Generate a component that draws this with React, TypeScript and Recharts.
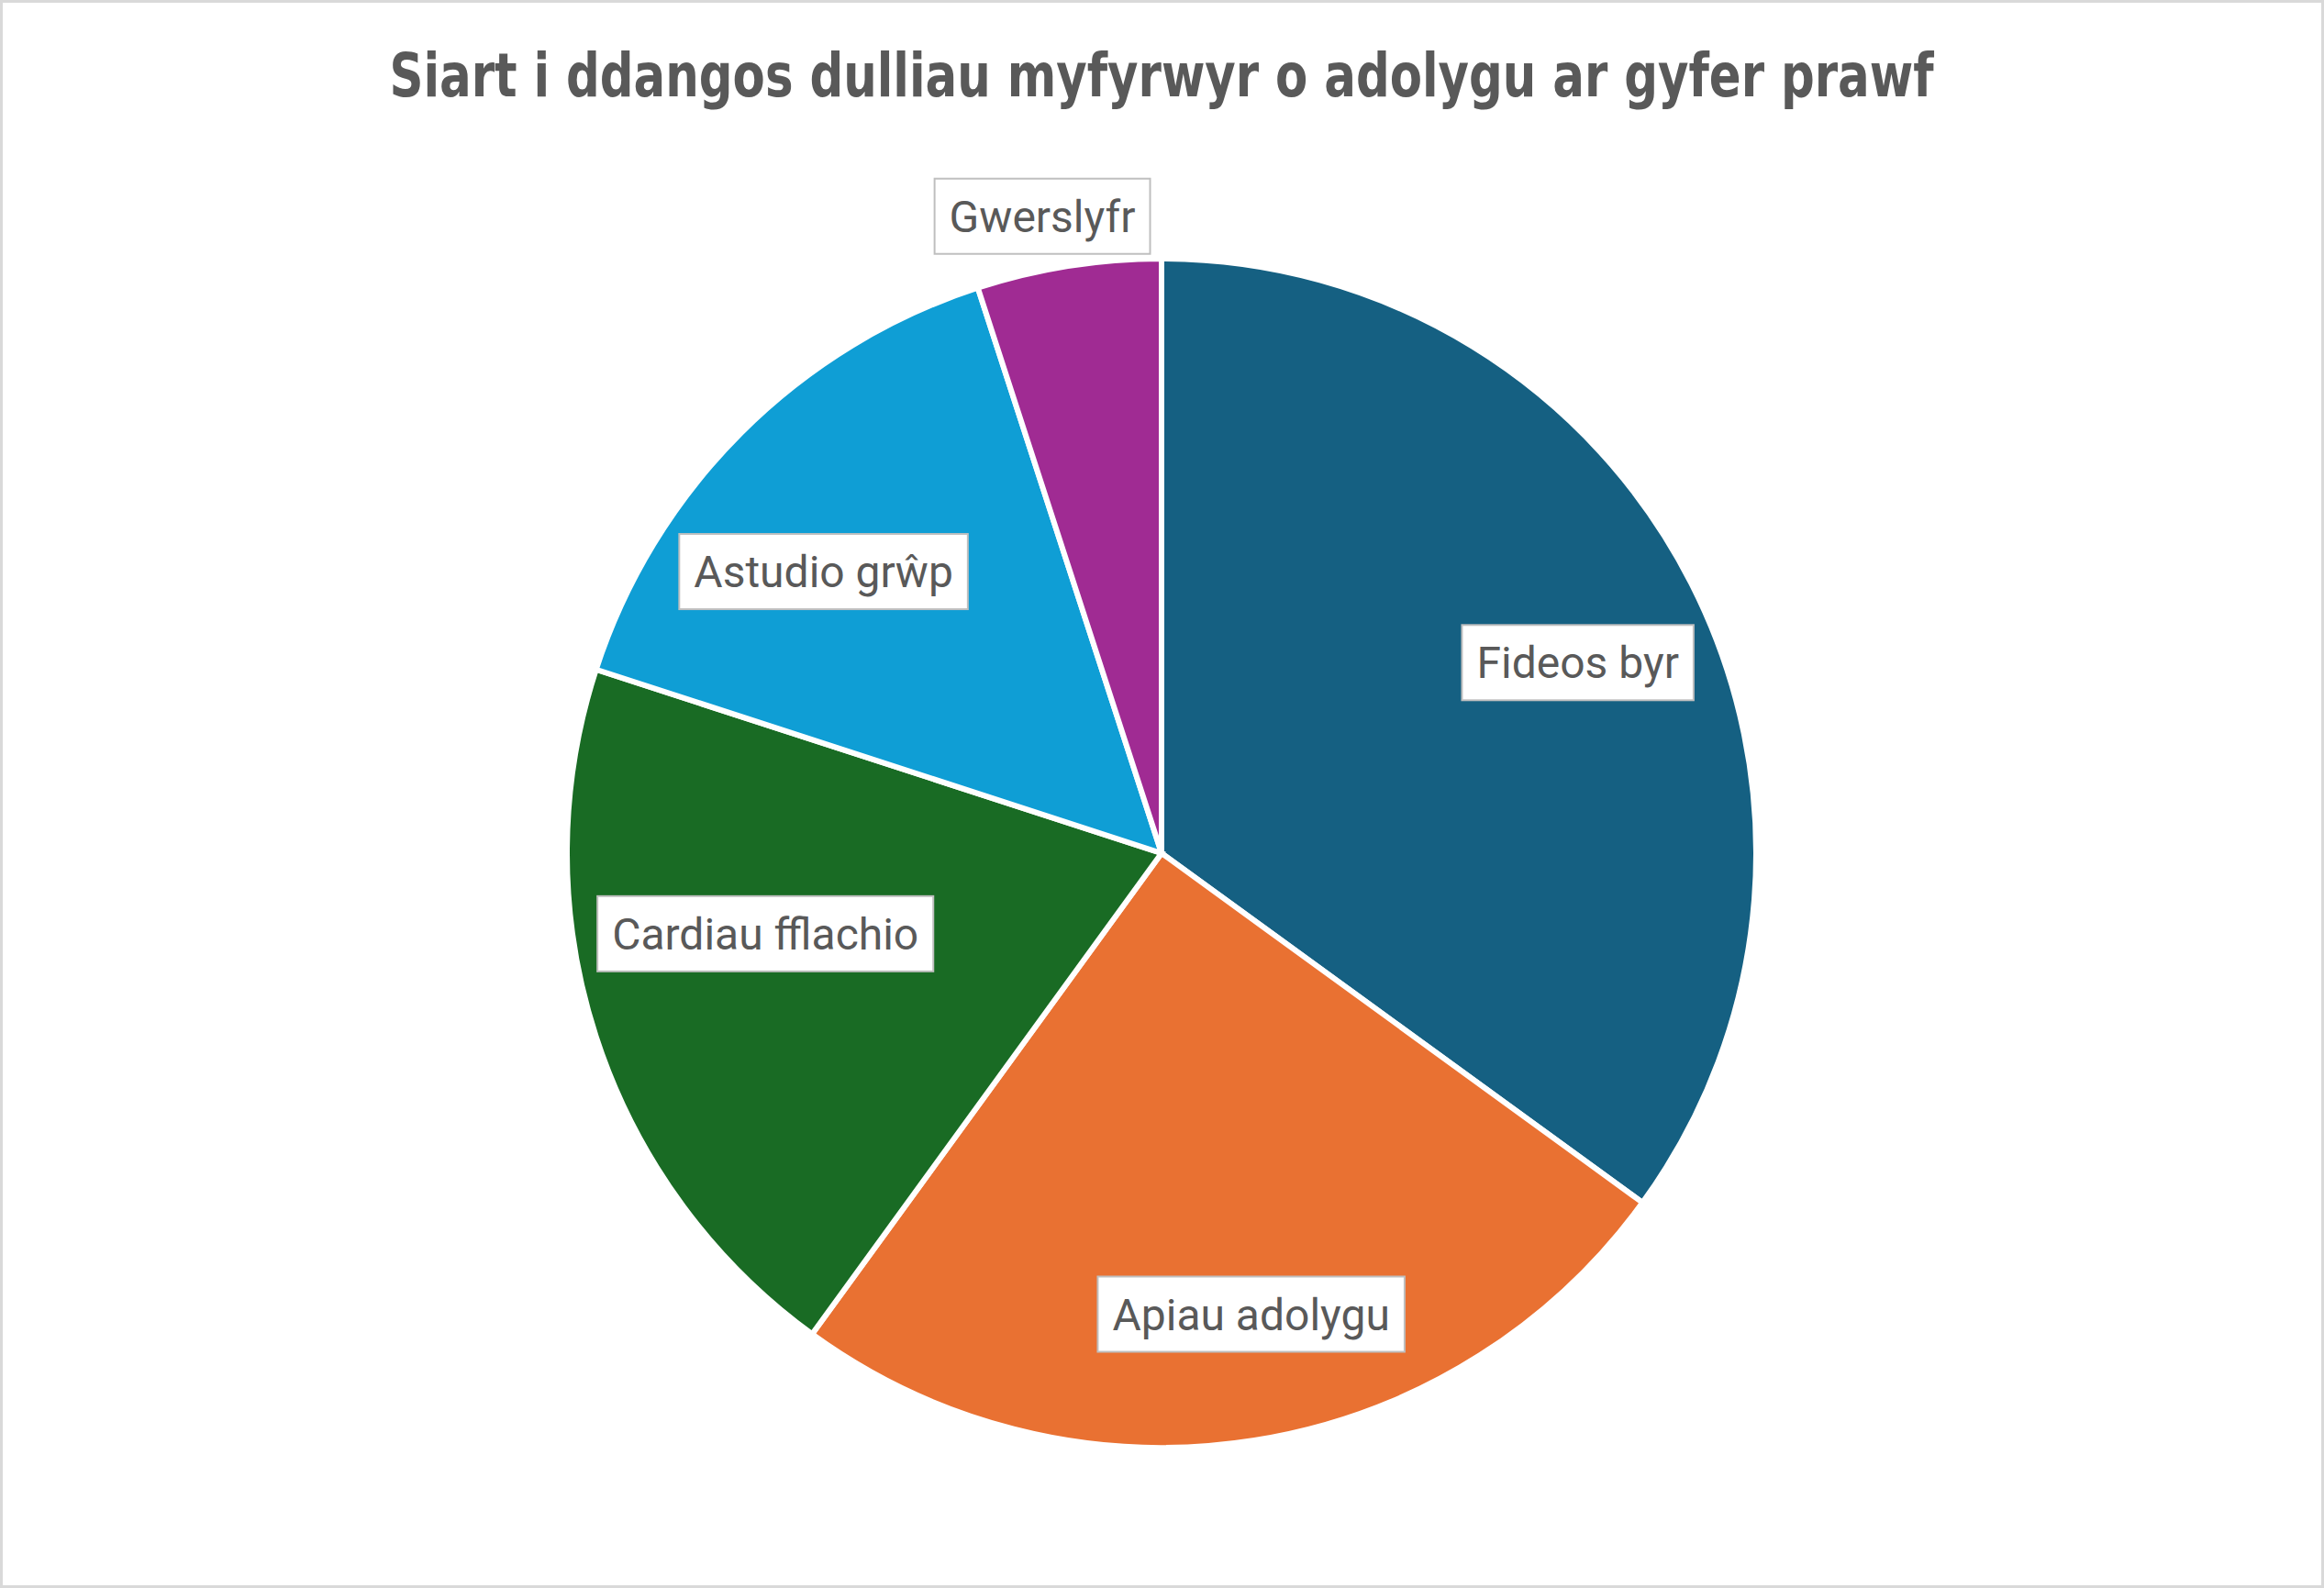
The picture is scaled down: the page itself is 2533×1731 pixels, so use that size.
import { PieChart, Pie, Cell } from 'recharts'

const TITLE = 'Siart i ddangos dulliau myfyrwyr o adolygu ar gyfer prawf'
const METHODS = ['Fideos byr', 'Apiau adolygu', 'Cardiau fflachio', 'Astudio grŵp', 'Gwerslyfr']
const STUDENTS = [35, 25, 20, 15, 5]

const COLORS = ['#156082', '#E97132', '#196B24', '#0F9ED5', '#A02B93']
// Excel "best fit" label spots: fraction of the radius and a small angle nudge
const LABEL_RADIUS = [0.77, 0.79, 0.68, 0.74, 1.09]
const LABEL_NUDGE = [-2.4, 2, -6.5, 5.2, 1.6]

const W = 2533
const H = 1731
const LABEL_FONT = '48px Roboto'
const RAD = Math.PI / 180

let ctx: CanvasRenderingContext2D | null = null
function textWidth(s: string) {
  if (!ctx) ctx = document.createElement('canvas').getContext('2d')
  if (!ctx) return s.length * 24
  ctx.font = LABEL_FONT
  return ctx.measureText(s).width
}

function BoxLabel(props: any) {
  const { cx, cy, midAngle, outerRadius, index } = props
  const r = outerRadius * LABEL_RADIUS[index]
  const a = (midAngle + LABEL_NUDGE[index]) * RAD
  const x = cx + r * Math.cos(a)
  const y = cy - r * Math.sin(a)
  const text = METHODS[index]
  const w = textWidth(text) + 32
  const h = 82
  return (
    <g>
      <rect x={x - w / 2} y={y - h / 2} width={w} height={h} fill="#fff" stroke="#BFBFBF" strokeWidth={2} />
      <text x={x} y={y + 17} textAnchor="middle" fill="#595959" style={{ font: LABEL_FONT }}>
        {text}
      </text>
    </g>
  )
}

export default function App() {
  const data = METHODS.map((name, i) => ({ name, value: STUDENTS[i] }))

  return (
    <div style={{ position: 'absolute', left: 0, top: 0, width: W, height: H, background: '#fff' }}>
      <div style={{ position: 'absolute', inset: 0, border: '3px solid #D9D9D9', boxSizing: 'border-box' }} />
      <svg width={W} height={H} style={{ position: 'absolute', left: 0, top: 0 }}>
        <text
          x={1266}
          y={105}
          textAnchor="middle"
          textLength={1683}
          lengthAdjust="spacingAndGlyphs"
          fill="#595959"
          fontWeight="bold"
          fontSize={66}
          fontFamily="'Liberation Sans Narrow', 'DejaVu Sans Condensed', Roboto, sans-serif"
        >
          {TITLE}
        </text>
      </svg>
      <div style={{ position: 'absolute', left: 0, top: 0 }}>
        <PieChart width={W} height={H} margin={{ top: 0, right: 0, bottom: 0, left: 0 }}>
          <Pie
            data={data}
            dataKey="value"
            nameKey="name"
            cx={1266}
            cy={930}
            outerRadius={648}
            startAngle={90}
            endAngle={-270}
            stroke="#fff"
            strokeWidth={6}
            label={BoxLabel}
            labelLine={false}
            isAnimationActive={false}
          >
            {data.map((_, i) => <Cell key={i} fill={COLORS[i]} />)}
          </Pie>
        </PieChart>
      </div>
    </div>
  )
}
